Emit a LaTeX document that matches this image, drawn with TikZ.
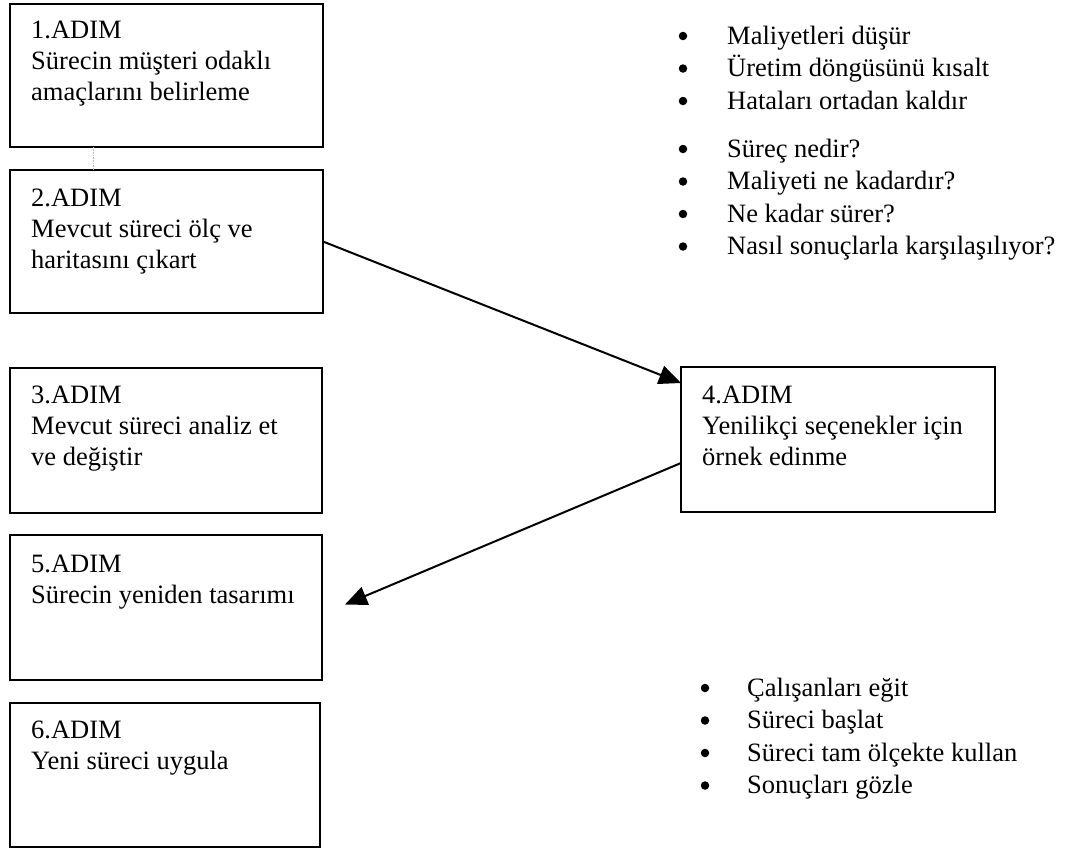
\documentclass[tikz,border=0pt]{standalone}
\usepackage{fontspec}
\setmainfont{Liberation Serif}
\usetikzlibrary{arrows.meta,calc}
\begin{document}
\begin{tikzpicture}[x=1pt,y=-1pt,
  stepbox/.style={draw, line width=2.2pt, rectangle, inner sep=0pt, outer sep=0pt, anchor=north west},
  boxtext/.style={anchor=base west, inner sep=0pt, font=\fontsize{26.5}{31}\selectfont},
  listtext/.style={anchor=base west, inner sep=0pt, font=\fontsize{26.5}{32.5}\selectfont},
  bul/.style={circle, fill=black, inner sep=0pt, minimum size=8.5pt},
  flow/.style={line width=2pt, -{Triangle[length=22pt,width=19pt]}}]
\useasboundingbox (0,0) rectangle (1067,849);

\node[stepbox, minimum width=313pt, minimum height=143pt] (b1) at (10,4) {};
\node[stepbox, minimum width=313pt, minimum height=143pt] (b2) at (10,170) {};
\node[stepbox, minimum width=312pt, minimum height=145pt] (b3) at (10,368) {};
\node[stepbox, minimum width=314pt, minimum height=145pt] (b4) at (681,367) {};
\node[stepbox, minimum width=312pt, minimum height=145pt] (b5) at (10,535) {};
\node[stepbox, minimum width=310pt, minimum height=144pt] (b6) at (10,703) {};

\node[boxtext] (t1) at ($(b1.north west)+(21,34)$) {\begin{tabular}[t]{@{}l@{}}1.ADIM\\Sürecin müşteri odaklı\\amaçlarını belirleme\end{tabular}};
\node[boxtext] (t2) at ($(b2.north west)+(21,36)$) {\begin{tabular}[t]{@{}l@{}}2.ADIM\\Mevcut süreci ölç ve\\haritasını çıkart\end{tabular}};
\node[boxtext] (t3) at ($(b3.north west)+(21,35)$) {\begin{tabular}[t]{@{}l@{}}3.ADIM\\Mevcut süreci analiz et\\ve değiştir\end{tabular}};
\node[boxtext] (t4) at ($(b4.north west)+(21,36)$) {\begin{tabular}[t]{@{}l@{}}4.ADIM\\Yenilikçi seçenekler için\\örnek edinme\end{tabular}};
\node[boxtext] (t5) at ($(b5.north west)+(21,37)$) {\begin{tabular}[t]{@{}l@{}}5.ADIM\\Sürecin yeniden tasarımı\end{tabular}};
\node[boxtext] (t6) at ($(b6.north west)+(21,35)$) {\begin{tabular}[t]{@{}l@{}}6.ADIM\\Yeni süreci uygula\end{tabular}};

% right-hand lists
\node[listtext] (l1) at (727,44) {\begin{tabular}[t]{@{}l@{}}Maliyetleri düşür\\Üretim döngüsünü kısalt\\Hataları ortadan kaldır\end{tabular}};
\node[listtext] (l2) at (727,157) {\begin{tabular}[t]{@{}l@{}}Süreç nedir?\\Maliyeti ne kadardır?\\Ne kadar sürer?\\Nasıl sonuçlarla karşılaşılıyor?\end{tabular}};
\node[listtext] (l3) at (747,696) {\begin{tabular}[t]{@{}l@{}}Çalışanları eğit\\Süreci başlat\\Süreci tam ölçekte kullan\\Sonuçları gözle\end{tabular}};

\foreach \i in {0,1,2} {\node[bul] (ba\i) at (683,{36+32.5*\i}) {};}
\foreach \i in {0,1,2,3} {\node[bul] (bb\i) at (683,{149+32.5*\i}) {};}
\foreach \i in {0,1,2,3} {\node[bul] (bc\i) at (705,{688+32.5*\i}) {};}

\draw[gray!55, line width=0.6pt, densely dotted] ($(b1.south west)+(83,0)$) -- ($(b2.north west)+(83,0)$);
\draw[flow] (b2.east) -- ($(b4.north west)+(0,16)$);
\draw[flow] ($(b4.north west)+(0,96)$) -- ($(b5.east)+(23,-3)$);
\end{tikzpicture}
\end{document}
